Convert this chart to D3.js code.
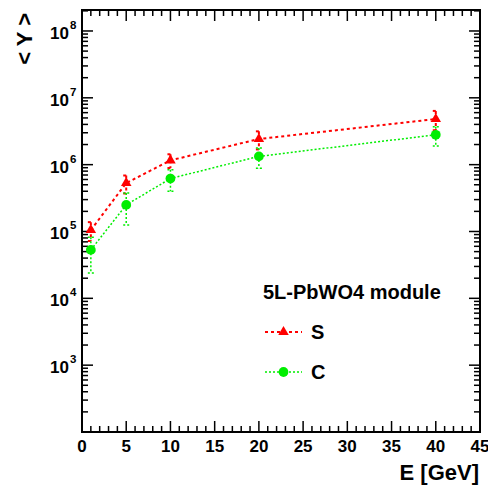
<!DOCTYPE html>
<html>
<head>
<meta charset="utf-8">
<script src="https://cdn.jsdelivr.net/npm/d3@7"></script>
<style>
  html, body { margin: 0; padding: 0; background: #fff; }
  svg { display: block; }
  text { font-family: "Liberation Sans", Arial, sans-serif; font-weight: bold; fill: #000; }
</style>
</head>
<body>
<svg id="chart" width="488" height="487"></svg>
<script>
// Beam energies (GeV)
const energies = [1, 5, 10, 20, 40];
// Mean signal <Y> for the scintillation (S) and Cherenkov (C) channels
const sValues = [1.05e5, 5.3e5, 1.16e6, 2.42e6, 4.82e6];
const sErrors = [0.33e5, 1.6e5, 0.27e6, 0.73e6, 1.55e6];
const cValues = [5.3e4, 2.5e5, 6.2e5, 1.33e6, 2.8e6];
const cErrors = [2.9e4, 1.25e5, 2.2e5, 4.5e5, 0.9e6];
// Axis ticks
const xTicks = [0, 5, 10, 15, 20, 25, 30, 35, 40, 45];
const yExponents = [3, 4, 5, 6, 7, 8];

const svg = d3.select("#chart");
const pLeft = 82, pRight = 480, pTop = 10, pBottom = 432;

const x = d3.scaleLinear().domain([0, 45]).range([pLeft, pRight]);
const y = d3.scaleLog().domain([100, 2.06e8]).range([pBottom, pTop]);

// Frame
svg.append("rect")
  .attr("x", pLeft).attr("y", pTop)
  .attr("width", pRight - pLeft).attr("height", pBottom - pTop)
  .attr("fill", "none").attr("stroke", "#000").attr("stroke-width", 2);

const tickG = svg.append("g").attr("stroke", "#000").attr("stroke-width", 1.5);

// X ticks: majors every 5, minors every 1, on bottom and top
d3.range(0, 46, 1).forEach(v => {
  const len = v % 5 === 0 ? 11 : 6;
  const px = x(v);
  tickG.append("line").attr("x1", px).attr("x2", px).attr("y1", pBottom).attr("y2", pBottom - len);
  tickG.append("line").attr("x1", px).attr("x2", px).attr("y1", pTop).attr("y2", pTop + len);
});

// Y ticks: decades and 2..9 minors, on left and right
for (let e = 2; e <= 8; e++) {
  for (let m = 1; m <= 9; m++) {
    const v = m * Math.pow(10, e);
    if (v < 100 || v > 2.06e8) continue;
    const len = m === 1 ? 11 : 6;
    const py = y(v);
    tickG.append("line").attr("x1", pLeft).attr("x2", pLeft + len).attr("y1", py).attr("y2", py);
    tickG.append("line").attr("x1", pRight).attr("x2", pRight - len).attr("y1", py).attr("y2", py);
  }
}

// X tick labels
svg.append("g").selectAll("text").data(xTicks).join("text")
  .attr("x", d => x(d)).attr("y", 452)
  .attr("text-anchor", "middle")
  .attr("font-size", 17)
  .text(d => d);

// Y tick labels 10^n
const yl = svg.append("g").selectAll("text").data(yExponents).join("text")
  .attr("x", 50).attr("y", d => y(Math.pow(10, d)) + 8)
  .attr("text-anchor", "start")
  .attr("font-size", 17);
yl.append("tspan").text("10");
yl.append("tspan").attr("font-size", 11.5).attr("dx", 1).attr("dy", -10).text(d => d);

// Axis titles
svg.append("text")
  .attr("x", 479).attr("y", 480)
  .attr("text-anchor", "end").attr("font-size", 22)
  .text("E [GeV]");
svg.append("text")
  .attr("transform", "translate(32,13) rotate(-90)")
  .attr("text-anchor", "end").attr("font-size", 22)
  .text("< Y >");

// Series
const series = [
  { name: "S", values: sValues, errors: sErrors, color: "#ff0000", dash: "3,3", width: 2, marker: "triangle" },
  { name: "C", values: cValues, errors: cErrors, color: "#00ee00", dash: "2,2", width: 1.5, marker: "circle" }
];

const line = d3.line().x(d => x(d[0])).y(d => y(d[1]));
const markerFor = s => s.marker === "triangle"
  ? d3.symbol().type(d3.symbolTriangle).size(48)
  : d3.symbol().type(d3.symbolCircle).size(75);

series.forEach(s => {
  const pts = energies.map((e, i) => [e, s.values[i], s.errors[i]]);
  const g = svg.append("g");
  // error bars with small end caps
  pts.forEach(p => {
    const yt = y(p[1] + p[2]), yb = y(Math.max(p[1] - p[2], 1));
    g.append("line").attr("x1", x(p[0])).attr("x2", x(p[0]))
      .attr("y1", yt).attr("y2", yb)
      .attr("stroke", s.color).attr("stroke-width", s.width).attr("stroke-dasharray", s.dash);
    [yt, yb].forEach(yy => g.append("line")
      .attr("x1", x(p[0]) - 3).attr("x2", x(p[0]) + 3)
      .attr("y1", yy).attr("y2", yy)
      .attr("stroke", s.color).attr("stroke-width", s.width).attr("stroke-dasharray", s.dash));
  });
  g.append("path").datum(pts).attr("d", line)
    .attr("fill", "none").attr("stroke", s.color)
    .attr("stroke-width", s.width).attr("stroke-dasharray", s.dash);
  g.selectAll("path.m").data(pts).join("path").attr("class", "m")
    .attr("transform", d => `translate(${x(d[0])},${y(d[1])})`)
    .attr("d", markerFor(s)).attr("fill", s.color);
});

// Legend
svg.append("text").attr("x", 263).attr("y", 299).attr("font-size", 20).text("5L-PbWO4 module");
const legendRows = [{ s: series[0], yy: 332 }, { s: series[1], yy: 372 }];
legendRows.forEach(r => {
  svg.append("line").attr("x1", 265).attr("x2", 302).attr("y1", r.yy).attr("y2", r.yy)
    .attr("stroke", r.s.color).attr("stroke-width", r.s.width).attr("stroke-dasharray", r.s.dash);
  svg.append("path").attr("transform", `translate(283.5,${r.yy})`).attr("d", markerFor(r.s)).attr("fill", r.s.color);
  svg.append("text").attr("x", 311).attr("y", r.yy + 6.5).attr("font-size", 20).text(r.s.name);
});
</script>
</body>
</html>
